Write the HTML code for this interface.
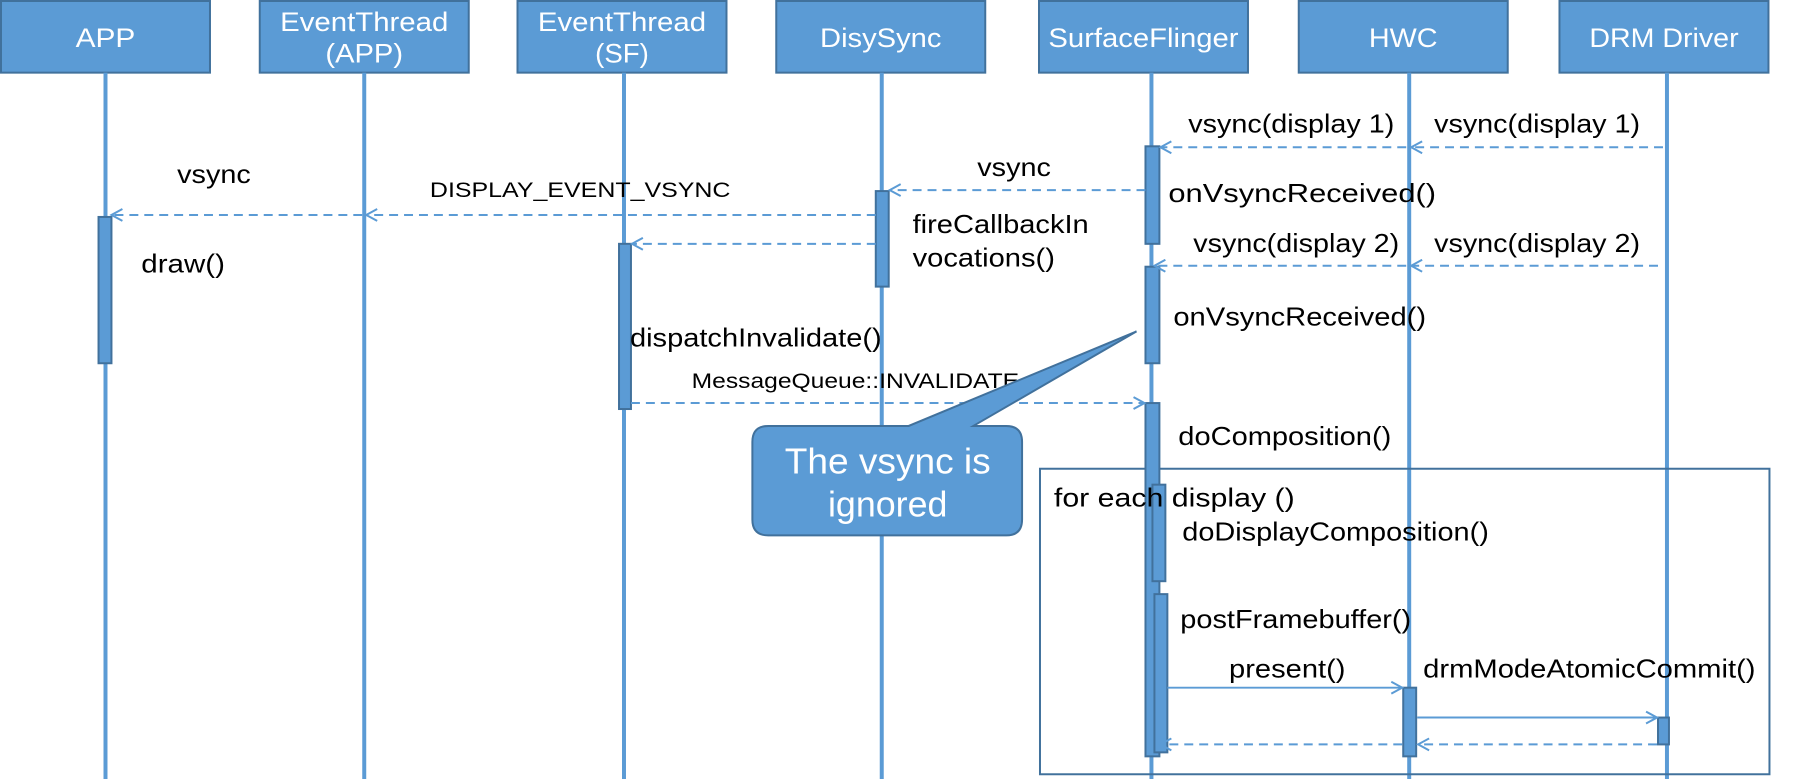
<!DOCTYPE html>
<html><head><meta charset="utf-8"><style>html,body{margin:0;padding:0;background:#fff}svg{display:block}</style></head><body>
<svg width="1796" height="779" viewBox="0 0 1796 779" xmlns="http://www.w3.org/2000/svg" font-family="Liberation Sans, Arial, sans-serif">
<defs>
<marker id="a" markerWidth="14" markerHeight="14" refX="12" refY="7" orient="auto" markerUnits="userSpaceOnUse">
<path d="M1,1 L12,7 L1,13" fill="none" stroke="#5b9bd5" stroke-width="2"/></marker>
</defs>
<g transform="scale(0.9952)">
<g fill="#5b9bd5" stroke="#41719c" stroke-width="2">
<rect x="1" y="1" width="210" height="72"/>
<rect x="261" y="1" width="210" height="72"/>
<rect x="520" y="1" width="210" height="72"/>
<rect x="780" y="1" width="210" height="72"/>
<rect x="1044" y="1" width="210" height="72"/>
<rect x="1305" y="1" width="210" height="72"/>
<rect x="1567" y="1" width="210" height="72"/>
</g>
<g fill="#fff" font-size="27" text-anchor="middle">
<text x="106" y="47" textLength="60" lengthAdjust="spacingAndGlyphs">APP</text>
<text x="366" y="31" textLength="169" lengthAdjust="spacingAndGlyphs">EventThread</text><text x="366" y="63" textLength="78" lengthAdjust="spacingAndGlyphs">(APP)</text>
<text x="625" y="31" textLength="169" lengthAdjust="spacingAndGlyphs">EventThread</text><text x="625" y="63" textLength="54" lengthAdjust="spacingAndGlyphs">(SF)</text>
<text x="885" y="47" textLength="122" lengthAdjust="spacingAndGlyphs">DisySync</text>
<text x="1149" y="47" textLength="191" lengthAdjust="spacingAndGlyphs">SurfaceFlinger</text>
<text x="1410" y="47" textLength="69" lengthAdjust="spacingAndGlyphs">HWC</text>
<text x="1672" y="47" textLength="150" lengthAdjust="spacingAndGlyphs">DRM Driver</text>
</g>
<g stroke="#5b9bd5" stroke-width="4">
<line x1="106" y1="73" x2="106" y2="790"/>
<line x1="366" y1="73" x2="366" y2="790"/>
<line x1="627" y1="73" x2="627" y2="790"/>
<line x1="886" y1="73" x2="886" y2="790"/>
<line x1="1157" y1="73" x2="1157" y2="790"/>
<line x1="1416" y1="73" x2="1416" y2="790"/>
<line x1="1675" y1="73" x2="1675" y2="790"/>
</g>
<rect x="1045" y="471" width="733" height="307" fill="none" stroke="#41719c" stroke-width="2"/>
<g fill="#5b9bd5" stroke="#41719c" stroke-width="2">
<rect x="99" y="218" width="13" height="147"/>
<rect x="622" y="245" width="12" height="166"/>
<rect x="880" y="192" width="13" height="96"/>
<rect x="1151" y="147" width="14" height="98"/>
<rect x="1151" y="268" width="14" height="97"/>
<rect x="1151" y="405" width="14" height="355"/>
<rect x="1158" y="487" width="13" height="97"/>
<rect x="1160" y="597" width="13" height="159"/>
<rect x="1410" y="691" width="13" height="69"/>
<rect x="1666" y="721" width="11" height="27"/>
</g>
<g stroke="#5b9bd5" stroke-width="2" fill="none">
<line x1="1671" y1="148" x2="1418" y2="148" stroke-dasharray="9,6" marker-end="url(#a)"/>
<line x1="1413" y1="148" x2="1166" y2="148" stroke-dasharray="9,6" marker-end="url(#a)"/>
<line x1="1666" y1="267" x2="1418" y2="267" stroke-dasharray="9,6" marker-end="url(#a)"/>
<line x1="1413" y1="267" x2="1160" y2="267" stroke-dasharray="9,6" marker-end="url(#a)"/>
<line x1="1151" y1="191" x2="894" y2="191" stroke-dasharray="9,6" marker-end="url(#a)"/>
<line x1="880" y1="216" x2="368" y2="216" stroke-dasharray="9,6" marker-end="url(#a)"/>
<line x1="364" y1="216" x2="112" y2="216" stroke-dasharray="9,6" marker-end="url(#a)"/>
<line x1="880" y1="245" x2="635" y2="245" stroke-dasharray="9,6" marker-end="url(#a)"/>
<line x1="634" y1="405" x2="1150" y2="405" stroke-dasharray="9,6" marker-end="url(#a)"/>
<line x1="1173" y1="691" x2="1409" y2="691" marker-end="url(#a)"/>
<line x1="1424" y1="721" x2="1665" y2="721" marker-end="url(#a)"/>
<line x1="1665" y1="748" x2="1425" y2="748" stroke-dasharray="9,6" marker-end="url(#a)"/>
<line x1="1409" y1="748" x2="1166" y2="748" stroke-dasharray="9,6" marker-end="url(#a)"/>
</g>
<g fill="#000" font-size="26">
<text x="1194" y="133" textLength="207" lengthAdjust="spacingAndGlyphs">vsync(display 1)</text>
<text x="1441" y="133" textLength="207" lengthAdjust="spacingAndGlyphs">vsync(display 1)</text>
<text x="982" y="177" textLength="74" lengthAdjust="spacingAndGlyphs">vsync</text>
<text x="178" y="184" textLength="74" lengthAdjust="spacingAndGlyphs">vsync</text>
<text x="432" y="198" font-size="21" textLength="302" lengthAdjust="spacingAndGlyphs">DISPLAY_EVENT_VSYNC</text>
<text x="1174" y="203" textLength="269" lengthAdjust="spacingAndGlyphs">onVsyncReceived()</text>
<text x="917" y="234" textLength="177" lengthAdjust="spacingAndGlyphs">fireCallbackIn</text>
<text x="917" y="268" textLength="143" lengthAdjust="spacingAndGlyphs">vocations()</text>
<text x="142" y="274" textLength="84" lengthAdjust="spacingAndGlyphs">draw()</text>
<text x="1199" y="253" textLength="207" lengthAdjust="spacingAndGlyphs">vsync(display 2)</text>
<text x="1441" y="253" textLength="207" lengthAdjust="spacingAndGlyphs">vsync(display 2)</text>
<text x="1179" y="327" textLength="254" lengthAdjust="spacingAndGlyphs">onVsyncReceived()</text>
<text x="633" y="348" textLength="253" lengthAdjust="spacingAndGlyphs">dispatchInvalidate()</text>
<text x="695" y="390" font-size="21" textLength="329" lengthAdjust="spacingAndGlyphs">MessageQueue::INVALIDATE</text>
<text x="1184" y="447" textLength="214" lengthAdjust="spacingAndGlyphs">doComposition()</text>
<text x="1059" y="509" textLength="242" lengthAdjust="spacingAndGlyphs">for each display ()</text>
<text x="1188" y="543" textLength="308" lengthAdjust="spacingAndGlyphs">doDisplayComposition()</text>
<text x="1186" y="631" textLength="232" lengthAdjust="spacingAndGlyphs">postFramebuffer()</text>
<text x="1235" y="681" textLength="117" lengthAdjust="spacingAndGlyphs">present()</text>
<text x="1430" y="681" textLength="334" lengthAdjust="spacingAndGlyphs">drmModeAtomicCommit()</text>
</g>
<path d="M775,428 L913,428 L1142,333 L978,428 L1011,428 Q1027,428 1027,444 L1027,522 Q1027,538 1011,538 L772,538 Q756,538 756,522 L756,444 Q756,428 772,428 Z" fill="#5b9bd5" stroke="#41719c" stroke-width="2"/>
<g fill="#fff" font-size="36" text-anchor="middle">
<text x="892" y="476" textLength="207" lengthAdjust="spacingAndGlyphs">The vsync is</text>
<text x="892" y="519">ignored</text>
</g>
</g>
</svg>
</body></html>
